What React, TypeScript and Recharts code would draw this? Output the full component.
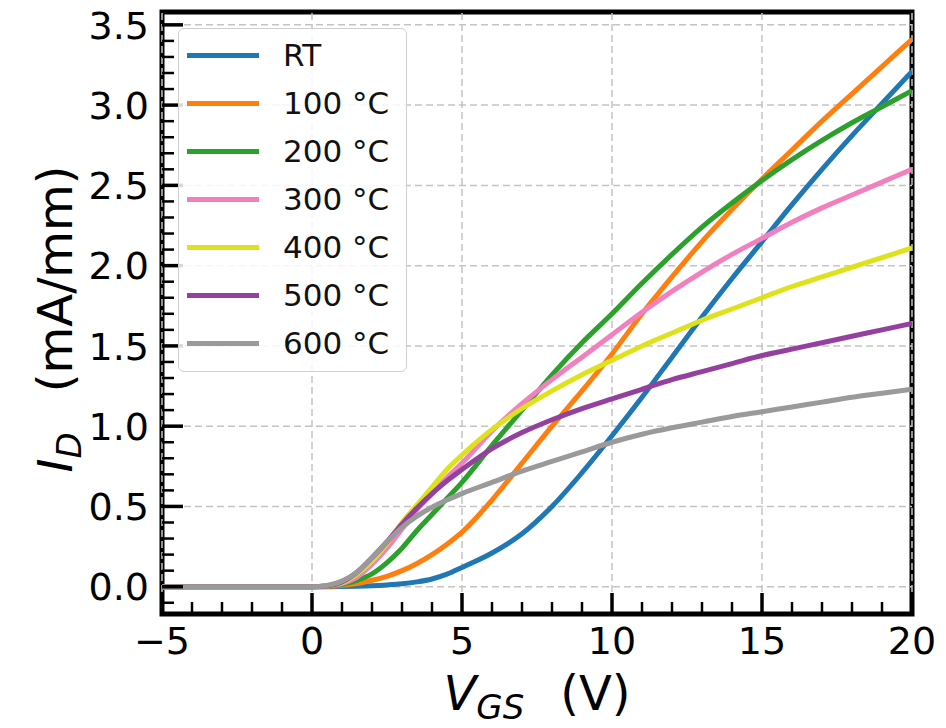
import React from "react";
import {
  LineChart,
  Line,
  XAxis,
  YAxis,
  ReferenceLine,
  ReferenceArea,
  Legend
} from "recharts";

// gate voltage (V)
const vgs = [-5, -4, -3, -2, -1, 0, 0.5, 1, 1.5, 2, 2.5, 3, 3.5, 4, 4.5, 5, 6, 7, 8, 9, 10, 11, 12, 13, 14, 15, 16, 17, 18, 19, 20];

// drain current (mA/mm), one list per temperature
const idRT = [0, 0, 0, 0, 0, 0, 0, 0.001, 0.003, 0.006, 0.011, 0.018, 0.03, 0.048, 0.078, 0.12, 0.21, 0.33, 0.5, 0.71, 0.94, 1.18, 1.43, 1.68, 1.92, 2.15, 2.38, 2.6, 2.81, 3.01, 3.21];
const id100 = [0, 0, 0, 0, 0, 0, 0.002, 0.008, 0.02, 0.04, 0.065, 0.1, 0.145, 0.2, 0.265, 0.34, 0.54, 0.77, 1.0, 1.22, 1.45, 1.7, 1.93, 2.15, 2.35, 2.54, 2.72, 2.9, 3.07, 3.24, 3.41];
const id200 = [0, 0, 0, 0, 0, 0, 0.003, 0.014, 0.04, 0.08, 0.15, 0.24, 0.35, 0.45, 0.55, 0.65, 0.88, 1.1, 1.32, 1.52, 1.7, 1.89, 2.07, 2.24, 2.39, 2.53, 2.66, 2.78, 2.89, 2.99, 3.09];
const id300 = [0, 0, 0, 0, 0, 0, 0.004, 0.02, 0.06, 0.14, 0.24, 0.36, 0.48, 0.58, 0.68, 0.77, 0.97, 1.14, 1.29, 1.43, 1.57, 1.71, 1.84, 1.96, 2.07, 2.17, 2.27, 2.36, 2.44, 2.52, 2.6];
const id400 = [0, 0, 0, 0, 0, 0, 0.005, 0.025, 0.08, 0.16, 0.27, 0.4, 0.51, 0.62, 0.73, 0.82, 0.98, 1.11, 1.22, 1.32, 1.41, 1.5, 1.58, 1.66, 1.73, 1.8, 1.87, 1.93, 1.99, 2.05, 2.11];
const id500 = [0, 0, 0, 0, 0, 0, 0.005, 0.03, 0.09, 0.18, 0.28, 0.39, 0.49, 0.58, 0.66, 0.73, 0.86, 0.96, 1.04, 1.11, 1.17, 1.23, 1.29, 1.34, 1.39, 1.44, 1.48, 1.52, 1.56, 1.6, 1.64];
const id600 = [0, 0, 0, 0, 0, 0, 0.008, 0.035, 0.09, 0.18, 0.28, 0.37, 0.44, 0.495, 0.54, 0.58, 0.65, 0.72, 0.78, 0.84, 0.9, 0.95, 0.99, 1.025, 1.06, 1.09, 1.12, 1.15, 1.18, 1.205, 1.23];

const seriesNames = ["RT", "100 °C", "200 °C", "300 °C", "400 °C", "500 °C", "600 °C"];
const seriesColors = ["#1f77b4", "#ff7f0e", "#2ca02c", "#f280bf", "#dde21d", "#94409f", "#9a9a9a"];
const seriesValues = [idRT, id100, id200, id300, id400, id500, id600];

const xMajor = [-5, 0, 5, 10, 15, 20];
const yMajor = [0, 0.5, 1, 1.5, 2, 2.5, 3, 3.5];
const xTicks = Array.from({ length: 26 }, (_, i) => i - 5);
const yTicks = Array.from({ length: 37 }, (_, i) => (i - 1) / 10);
const xDomain: [number, number] = [-5, 20];
const yDomain: [number, number] = [-0.17, 3.58];

const rows = vgs.map((v, i) => {
  const row: any = { v };
  seriesValues.forEach((s, k) => (row["s" + k] = s[i]));
  return row;
});

const FONT = "'DejaVu Sans', sans-serif";

const XTick = (props: any) => {
  const { x, y, payload } = props;
  const v = payload.value;
  const major = v % 5 === 0;
  return (
    <g>
      <line x1={x} x2={x} y1={y} y2={y - (major ? 21 : 12)} stroke="#000" strokeWidth={major ? 3.5 : 2.5} />
      {major && (
        <text x={x} y={y + 40} textAnchor="middle" fontSize={38} fontFamily={FONT} fill="#000">
          {v < 0 ? "\u2212" + Math.abs(v) : String(v)}
        </text>
      )}
    </g>
  );
};

const YTick = (props: any) => {
  const { x, y, payload } = props;
  const v = payload.value;
  const major = Math.round(v * 10) % 5 === 0;
  return (
    <g>
      <line x1={x} x2={x + (major ? 21 : 12)} y1={y} y2={y} stroke="#000" strokeWidth={major ? 3.5 : 2.5} />
      {major && (
        <text x={x - 13} y={y} dy="0.36em" textAnchor="end" fontSize={38} fontFamily={FONT} fill="#000">
          {v.toFixed(1)}
        </text>
      )}
    </g>
  );
};

const XLabel = (props: any) => {
  const vb = props.viewBox || {};
  const cx = vb.x + vb.width / 2;
  const y = vb.y + 96;
  return (
    <text x={cx} y={y} textAnchor="middle" fontFamily={FONT} fontSize={48} fill="#000">
      <tspan fontStyle="italic">V</tspan>
      <tspan fontStyle="italic" fontSize={34} dy={9}>GS</tspan>
      <tspan dx={36} dy={-9}>(V)</tspan>
    </text>
  );
};

const YLabel = (props: any) => {
  const vb = props.viewBox || {};
  const cx = vb.x + 72;
  const cy = vb.y + vb.height / 2 + 6;
  return (
    <text
      x={cx}
      y={cy}
      transform={`rotate(-90 ${cx} ${cy})`}
      textAnchor="middle"
      fontFamily={FONT}
      fontSize={48}
      fill="#000"
    >
      <tspan fontStyle="italic">I</tspan>
      <tspan fontStyle="italic" fontSize={34} dy={9}>D</tspan>
      <tspan dx={40} dy={-9}>(mA/mm)</tspan>
    </text>
  );
};

const LegendBox = () => (
  <div
    style={{
      width: 229,
      height: 344,
      boxSizing: "border-box",
      border: "1.5px solid #cfcfcf",
      borderRadius: 6,
      background: "rgba(255,255,255,0.85)",
      paddingTop: 2,
      fontFamily: FONT
    }}
  >
    {seriesNames.map((name, i) => (
      <div key={name} style={{ display: "flex", alignItems: "center", height: 48 }}>
        <div style={{ width: 72, height: 5, marginLeft: 8, background: seriesColors[i] }} />
        <span style={{ marginLeft: 24, fontSize: 31, lineHeight: 1, color: "#111" }}>{name}</span>
      </div>
    ))}
  </div>
);

export default function App() {
  return (
    <div style={{ position: "absolute", left: 0, top: 0, width: 946, height: 728, background: "#fff" }}>
      <LineChart width={946} height={728} data={rows} margin={{ top: 12, right: 34, bottom: 0, left: 0 }}>
        <XAxis
          dataKey="v"
          type="number"
          domain={xDomain}
          ticks={xTicks}
          interval={0}
          tick={XTick}
          tickLine={false}
          axisLine={false}
          tickSize={0}
          tickMargin={0}
          height={114}
          allowDataOverflow
          label={<XLabel />}
        />
        <YAxis
          type="number"
          domain={yDomain}
          ticks={yTicks}
          interval={0}
          tick={YTick}
          tickLine={false}
          axisLine={false}
          tickSize={0}
          tickMargin={0}
          width={162}
          allowDataOverflow
          label={<YLabel />}
        />

        {xMajor.map((v) => (
          <ReferenceLine key={"gx" + v} x={v} stroke="#c4c4c4" strokeWidth={1.5} strokeDasharray="7 4" />
        ))}
        {yMajor.map((v) => (
          <ReferenceLine key={"gy" + v} y={v} stroke="#c4c4c4" strokeWidth={1.5} strokeDasharray="7 4" />
        ))}

        {seriesNames.map((name, k) => (
          <Line
            key={name}
            type="monotone"
            dataKey={"s" + k}
            name={name}
            stroke={seriesColors[k]}
            strokeWidth={5}
            dot={false}
            activeDot={false}
            isAnimationActive={false}
          />
        ))}

        {/* plot frame */}
        <ReferenceArea
          x1={xDomain[0]}
          x2={xDomain[1]}
          y1={yDomain[0]}
          y2={yDomain[1]}
          fill="none"
          fillOpacity={0}
          stroke="#000"
          strokeWidth={5}
          ifOverflow="visible"
        />

        <Legend
          layout="vertical"
          align="center"
          verticalAlign="middle"
          content={() => <LegendBox />}
          wrapperStyle={{ left: 178, top: 28, width: 229, height: 344 }}
        />
      </LineChart>
    </div>
  );
}
